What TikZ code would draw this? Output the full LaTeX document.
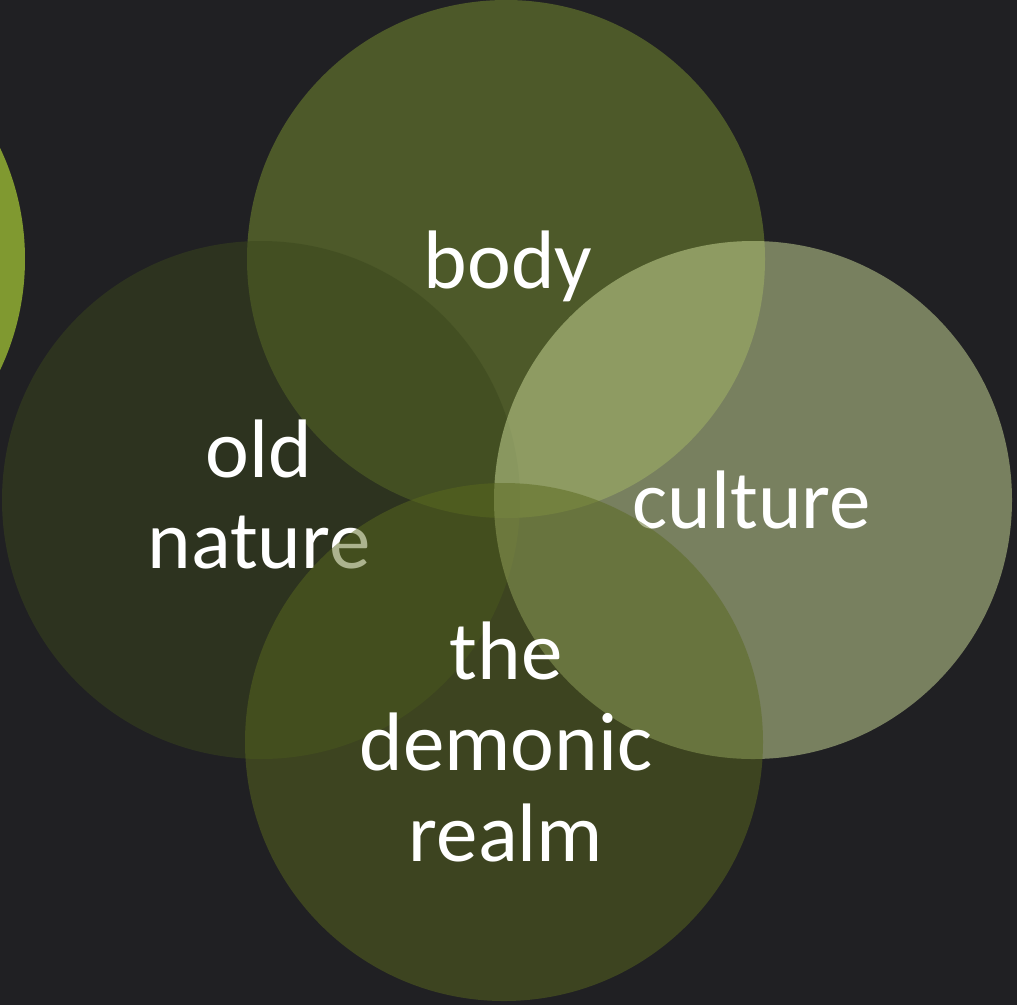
\documentclass[tikz,border=0pt]{standalone}
\usepackage{fontspec}
\setmainfont{Carlito}
\usepackage{xcolor}
\usepackage{tikz}
\definecolor{slate}{RGB}{32,32,35}
\definecolor{olive}{RGB}{128,153,48}
\definecolor{moss}{RGB}{58,71,29}
\definecolor{sage}{RGB}{200,215,150}
\definecolor{fern}{RGB}{90,105,30}
\tikzset{
    bubble/.style = {circle, minimum size=518pt, inner sep=0pt, draw=none},
    word/.style = {text=white, align=center, inner sep=0pt, anchor=base, font=\fontsize{83}{91}\selectfont}
}

\begin{document}
\begin{tikzpicture}[x=1pt, y=-1pt]
\fill [slate] (0,0) rectangle (1017,1005);
\useasboundingbox (0,0) rectangle (1017,1005);
\clip (0,0) rectangle (1017,1005);

\node (neighbour) [bubble, fill=olive] at (-234,259) {};
\node (body) [bubble, fill=olive, opacity=0.48] at (506,259) {};
\node (bodytext) [word] at (508,288) {body};
\node (oldnature) [bubble, fill=moss, opacity=0.5] at (261,500) {};
\node (oldtext) [word] at (259,568) {old\\nature};
\node (culture) [bubble, fill=sage, opacity=0.53] at (753,500) {};
\node (culturetext) [word] at (752,528) {culture};
\node (demonic) [bubble, fill=fern, opacity=0.5] at (504,742) {};
\node (demonictext) [word] at (506,861) {the\\demonic\\realm};
\end{tikzpicture}
\end{document}
